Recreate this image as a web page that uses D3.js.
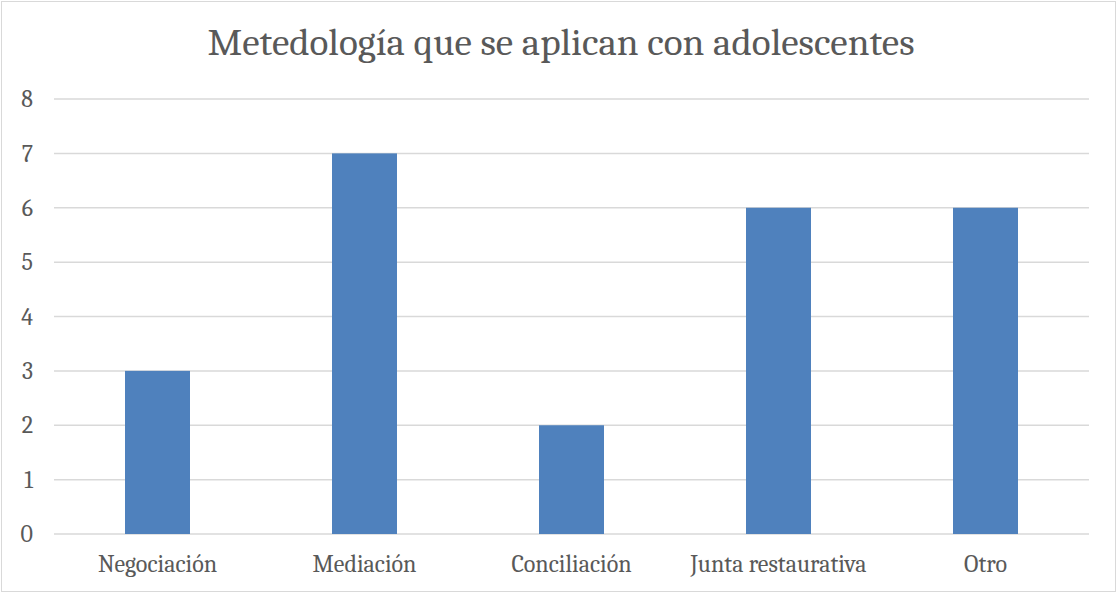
<!DOCTYPE html>
<html>
<head>
<meta charset="utf-8">
<script src="https://cdn.jsdelivr.net/npm/d3@7"></script>
<style>
    html, body { margin: 0; padding: 0; background: #fff; }
    svg { display: block; }
</style>
</head>
<body>
<div id="chart"></div>
<script>
(function () {
    const categories = ['Negociación', 'Mediación', 'Conciliación', 'Junta restaurativa', 'Otro'];
    const values = [3, 7, 2, 6, 6];
    const yTicks = [0, 1, 2, 3, 4, 5, 6, 7, 8];
    const title = 'Metedología que se aplican con adolescentes';

    const [width, height] = [1118, 593];
    const [left, right, top, bottom] = [54, 1089, 99, 534];
    const font = "Cambria, Caladea, 'Liberation Serif', 'DejaVu Serif', serif";

    let svg = d3.select('#chart')
                .append('svg')
                .attr('width', width)
                .attr('height', height);

    svg.append('rect')
       .attr('x', 1.5)
       .attr('y', 1.5)
       .attr('width', width - 4)
       .attr('height', height - 3)
       .attr('fill', '#fff')
       .attr('stroke', '#d9d9d9')
       .attr('stroke-width', 1);

    let x = d3.scaleBand()
              .domain(categories)
              .range([left, right])
              .paddingInner(0.686)
              .paddingOuter(0.343);

    let y = d3.scaleLinear()
              .domain([0, 8])
              .range([bottom, top]);

    // gridlines
    svg.append('g')
       .selectAll('line')
       .data(yTicks)
       .enter()
       .append('line')
       .attr('x1', left)
       .attr('x2', right)
       .attr('y1', d => y(d))
       .attr('y2', d => y(d))
       .attr('stroke', '#d9d9d9')
       .attr('stroke-width', 1.5);

    // bars
    svg.append('g')
       .selectAll('rect')
       .data(values)
       .enter()
       .append('rect')
       .attr('x', (d, i) => x(categories[i]))
       .attr('y', d => y(d))
       .attr('width', x.bandwidth())
       .attr('height', d => y(0) - y(d))
       .attr('fill', '#4f81bd');

    // y axis labels
    let yAxis = svg.append('g')
                   .attr('transform', `translate(${left - 21}, 0)`)
                   .call(d3.axisLeft(y).tickValues(yTicks).tickSize(0).tickPadding(0));
    yAxis.select('.domain').remove();
    yAxis.selectAll('text')
         .attr('font-family', font)
         .attr('font-size', '24px')
         .attr('fill', '#595959');

    // x axis labels
    let xAxis = svg.append('g')
                   .attr('transform', `translate(0, ${bottom})`)
                   .call(d3.axisBottom(x).tickSize(0).tickPadding(21));
    xAxis.select('.domain').remove();
    xAxis.selectAll('text')
         .attr('font-family', font)
         .attr('font-size', '24px')
         .attr('fill', '#595959');

    svg.append('text')
       .attr('x', width / 2 + 2)
       .attr('y', 55)
       .attr('text-anchor', 'middle')
       .attr('font-family', font)
       .attr('font-size', '38px')
       .attr('fill', '#595959')
       .attr('textLength', 707)
       .attr('lengthAdjust', 'spacingAndGlyphs')
       .text(title);
})();
</script>
</body>
</html>
